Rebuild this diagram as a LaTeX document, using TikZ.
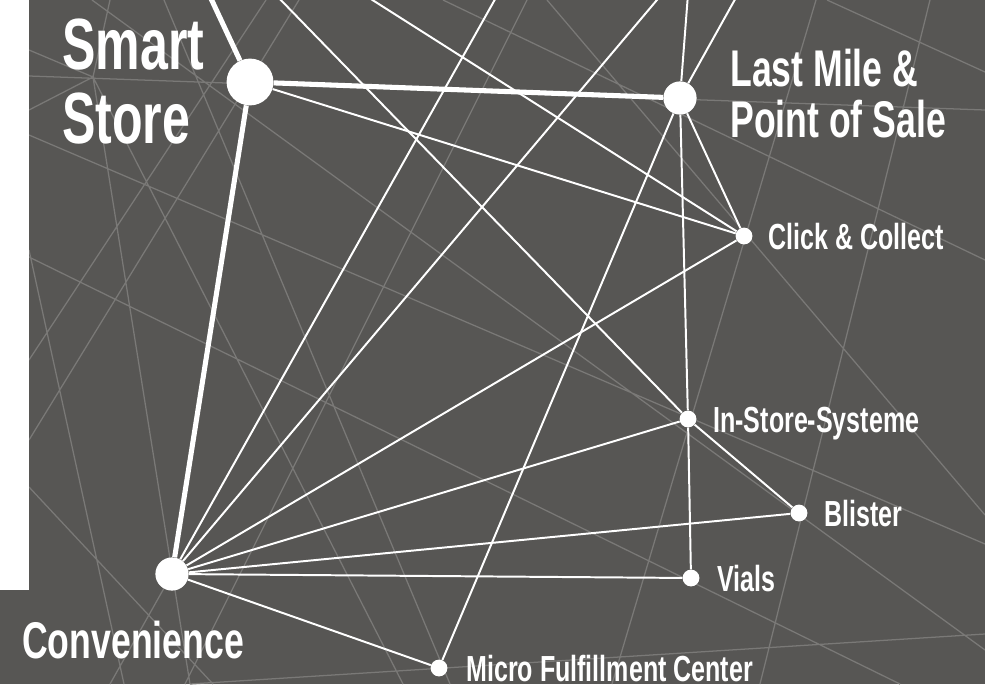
\documentclass[tikz,border=0pt]{standalone}
\usepackage{fontspec}
\setmainfont{Liberation Sans}[FakeStretch=0.69]
\usetikzlibrary{positioning}
\definecolor{slate}{RGB}{87,86,84}
\definecolor{meshgray}{RGB}{122,121,119}
\tikzset{
	hub/.style={circle, fill=white, inner sep=0pt, minimum size=#1},
	link/.style={draw=white, line width=1.4pt},
	trunk/.style={draw=white, line width=3.6pt},
	mesh/.style={draw=meshgray, line width=0.9pt},
	bigtag/.style={text=white, inner sep=0pt, align=left,
		font=\bfseries\fontsize{51.6}{52.6}\selectfont},
	midtag/.style={text=white, inner sep=0pt, align=left,
		font=\bfseries\fontsize{36.7}{36.3}\selectfont},
	tag/.style={text=white, inner sep=0pt, text height=18.5pt, text depth=0pt,
		font=\bfseries\fontsize{25.8}{28}\selectfont},
}

\begin{document}
\begin{tikzpicture}[x=0.025cm, y=-0.025cm]
	\useasboundingbox (0,0) rectangle (985,684);
	\fill[slate] (0,0) rectangle (985,684);

	% background net
	\begin{scope}
		\clip (0,0) rectangle (985,684);
		\draw[mesh] (29,76) -- (985,110) (443,0) -- (985,260) (547,0) -- (985,515)
			(527,0) -- (185,684) (29,135) -- (985,544) (29,257) -- (900,684)
			(92,0) -- (985,650) (816,0) -- (612,684) (930,0) -- (760,684)
			(827,0) -- (985,72) (190,684) -- (985,634) (93,77) -- (403,684)
			(164,0) -- (450,684) (93,77) -- (190,684) (29,250) -- (124,684)
			(29,487) -- (213,684) (172,574) -- (110,684) (266,0) -- (29,360)
			(299,0) -- (29,440) (29,50) -- (93,77) -- (29,110) (110,0) -- (93,77);
	\end{scope}
	\fill[white] (0,0) rectangle (29,590);

	% dots
	\node[hub=1.17cm] (smart) at (250,82) {};
	\node[hub=0.83cm] (lastmile) at (680,98) {};
	\node[hub=0.83cm] (conv) at (172,574) {};
	\node[hub=0.42cm] (click) at (744,236) {};
	\node[hub=0.42cm] (instore) at (688,419) {};
	\node[hub=0.42cm] (blister) at (799,513) {};
	\node[hub=0.42cm] (vials) at (691,578) {};
	\node[hub=0.42cm] (mfc) at (439,668) {};

	% loose ends above the top edge
	\coordinate (up1) at (207,-10);
	\coordinate (up2) at (275,-6);
	\coordinate (up3) at (363,-6);
	\coordinate (up4) at (498,-6);
	\coordinate (up5) at (662,-6);
	\coordinate (up6) at (688,-6);
	\coordinate (up7) at (738,-6);

	\draw[trunk] (smart) -- (up1);
	\draw[trunk] (smart) -- (lastmile);
	\draw[trunk] (smart) -- (conv);

	\draw[link] (smart) -- (click);
	\draw[link] (up3) -- (click);
	\draw[link] (up2) -- (instore);
	\draw[link] (up4) -- (conv);
	\draw[link] (up5) -- (conv);
	\draw[link] (lastmile) -- (up6);
	\draw[link] (lastmile) -- (up7);
	\draw[link] (lastmile) -- (click);
	\draw[link] (lastmile) -- (instore);
	\draw[link] (lastmile) -- (mfc);
	\draw[link] (instore) -- (vials);
	\draw[link] (instore) -- (blister);
	\draw[link] (conv) -- (click);
	\draw[link] (conv) -- (instore);
	\draw[link] (conv) -- (blister);
	\draw[link] (conv) -- (vials);
	\draw[link] (conv) -- (mfc);

	% labels
	\node[bigtag, anchor=north west] (smarttag) at (62,19) {Smart\\Store};
	\node[midtag, anchor=north west] (lastmiletag) at (730,49) {Last Mile \&\\Point of Sale};
	\node[midtag, anchor=base west] (convtag) at (22,658) {Convenience};
	\node[tag, right=0.39cm of click] (clicktag) {Click \& Collect};
	\node[tag, right=0.41cm of instore] (instoretag) {In-Store-Systeme};
	\node[tag, right=0.41cm of blister] (blistertag) {Blister};
	\node[tag, right=0.44cm of vials] (vialstag) {Vials};
	\node[tag, right=0.46cm of mfc] (mfctag) {Micro Fulfillment Center};
\end{tikzpicture}
\end{document}
